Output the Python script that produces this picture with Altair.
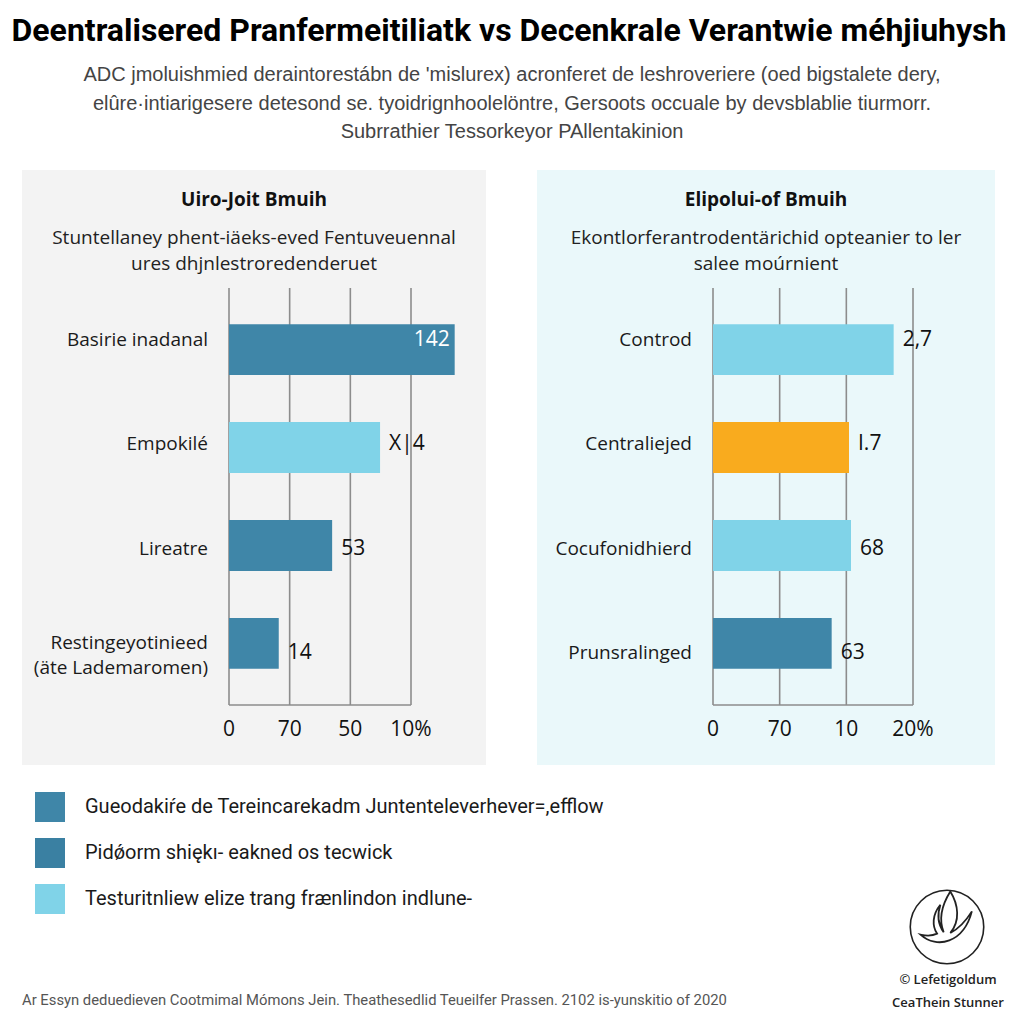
import altair as alt
import pandas as pd

# ---------------- data ----------------
TITLE = "Deentralisered Pranfermeitiliatk vs Decenkrale Verantwie méhjiuhysh"
SUBTITLE = [
    "ADC jmoluishmied deraintorestábn de 'mislurex) acronferet de leshroveriere (oed bigstalete dery,",
    "elûre·intiarigesere detesond se. tyoidrignhoolelöntre, Gersoots occuale by devsblablie tiurmorr.",
    "Subrrathier Tessorkeyor PAllentakinion",
]

LEFT_TITLE = "Uiro-Joit Bmuih"
LEFT_SUB = ["Stuntellaney phent-iäeks-eved Fentuveuennal", "ures dhjnlestroredenderuet"]
LEFT_CATS = ["Basirie inadanal", "Empokilé", "Lireatre", "Restingeyotinieed\n(äte Lademaromen)"]
LEFT_VALUES = [3.72, 2.49, 1.70, 0.82]
LEFT_LABELS = ["142", "X|4", "53", "14"]
LEFT_COLORS = ["#3f86a8", "#80d3e8", "#3f86a8", "#3f86a8"]
LEFT_TICKS = [0, 1, 2, 3]
LEFT_TICK_LABELS = ["0", "70", "50", "10%"]

RIGHT_TITLE = "Elipolui-of Bmuih"
RIGHT_SUB = ["Ekontlorferantrodentärichid opteanier to ler", "salee moúrnient"]
RIGHT_CATS = ["Controd", "Centraliejed", "Cocufonidhierd", "Prunsralinged"]
RIGHT_VALUES = [2.71, 2.04, 2.07, 1.78]
RIGHT_LABELS = ["2,7", "I.7", "68", "63"]
RIGHT_COLORS = ["#80d3e8", "#f9ab1e", "#80d3e8", "#3f86a8"]
RIGHT_TICKS = [0, 1, 2, 3]
RIGHT_TICK_LABELS = ["0", "70", "10", "20%"]

LEGEND_LABELS = [
    "Gueodakiŕe de Tereincarekadm Juntenteleverhever=,efflow",
    "Pidǿorm shiękı- eakned os tecwick",
    "Testuritnliew elize trang frænlindon indlune-",
]
LEGEND_COLORS = ["#3f86a8", "#3a80a2", "#80d3e8"]

FOOTER = "Ar Essyn deduedieven Cootmimal Mómons Jein. Theathesedlid Teueilfer Prassen. 2102 is-yunskitio of 2020"
LOGO_TEXT = ["© Lefetigoldum", "CeaThein Stunner"]

# ---------------- helpers ----------------
SANS = "Liberation Sans"
OPEN = "Open Sans"
ROBOTO = "Roboto"


def txt(t, x, y, size, color="#222", weight="normal", align="center", font=OPEN):
    return alt.Chart(pd.DataFrame({"t": [t]})).mark_text(
        fontSize=size, font=font, fontWeight=weight, color=color, align=align, baseline="middle"
    ).encode(text="t:N", x=alt.value(x), y=alt.value(y))


def rect(x, x2, y, y2, fill):
    return alt.Chart(pd.DataFrame({"a": [0]})).mark_rect(color=fill).encode(
        x=alt.value(x), x2=alt.value(x2), y=alt.value(y), y2=alt.value(y2)
    )


Y_RANGE = [280, 697]
MULTI = "indexof(datum.cat, '\\n') >= 0"


def panel(cats, vals, labels, colors, ticks, tick_labels, x_range, label_x, bg, bx, bx2, title, sub, cx):
    df = pd.DataFrame({"cat": cats, "val": vals, "lab": labels, "col": colors})
    tdf = pd.DataFrame({"tick": ticks, "tlab": tick_labels})
    bdf = pd.DataFrame({"x0": [ticks[0]], "x1": [ticks[-1]]})
    xs = alt.Scale(domain=[ticks[0], ticks[-1]], range=x_range, nice=False, zero=False)
    ys = alt.Scale(domain=cats, range=Y_RANGE, paddingInner=0.48, paddingOuter=0.37)
    Y = alt.Y("cat:N", scale=ys, axis=None, sort=cats)

    layers = [rect(bx, bx2, 162, 757, bg)]
    layers.append(txt(title, cx, 192, 19, "#111", "bold"))
    layers.append(txt(sub[0], cx, 230, 19, "#222"))
    layers.append(txt(sub[1], cx, 256, 19, "#222"))

    grid = alt.Chart(tdf).mark_rule(color="#8c8c8c", strokeWidth=1.6).encode(
        x=alt.X("tick:Q", scale=xs, axis=None), y=alt.value(Y_RANGE[0]), y2=alt.value(Y_RANGE[1])
    )
    base = alt.Chart(bdf).mark_rule(color="#8c8c8c", strokeWidth=1.6).encode(
        x=alt.X("x0:Q", scale=xs, axis=None), x2="x1:Q", y=alt.value(Y_RANGE[1])
    )
    ticklab = alt.Chart(tdf).mark_text(fontSize=21, font=OPEN, color="#111", baseline="middle").encode(
        x=alt.X("tick:Q", scale=xs, axis=None), y=alt.value(722), text="tlab:N"
    )
    bars = alt.Chart(df).mark_bar(opacity=1).encode(
        x=alt.X("val:Q", scale=xs, axis=None),
        x2=alt.datum(0),
        y=Y,
        color=alt.Color("col:N", scale=None),
    )
    catlab = alt.Chart(df).transform_filter("!(" + MULTI + ")").mark_text(
        fontSize=19, font=OPEN, color="#1a1a1a", align="right", baseline="middle"
    ).encode(y=Y, x=alt.value(label_x), text="cat:N")
    catlab2 = alt.Chart(df).transform_filter(MULTI).mark_text(
        fontSize=19, font=OPEN, color="#1a1a1a", align="right", baseline="middle",
        lineBreak="\n", lineHeight=25, dy=-10
    ).encode(y=Y, x=alt.value(label_x), text="cat:N")
    outside = alt.Chart(df).transform_filter(f"datum.val <= {ticks[-1]}").mark_text(
        fontSize=21, font=OPEN, color="#111", align="left", baseline="middle", dx=9
    ).encode(x=alt.X("val:Q", scale=xs, axis=None), y=Y, text="lab:N")
    inside = alt.Chart(df).transform_filter(f"datum.val > {ticks[-1]}").mark_text(
        fontSize=21, font=OPEN, color="white", align="right", baseline="middle", dx=-5
    ).encode(x=alt.X("val:Q", scale=xs, axis=None), y=Y, text="lab:N")
    layers += [grid, base, bars, ticklab, catlab, catlab2, outside, inside]
    return layers


layers = []
layers.append(txt(TITLE, 501, 23, 32, "#000", "bold", font=ROBOTO))
for i, s in enumerate(SUBTITLE):
    layers.append(txt(s, 504, 67 + i * 28.5, 20, "#444", font=SANS))

layers += panel(LEFT_CATS, LEFT_VALUES, LEFT_LABELS, LEFT_COLORS, LEFT_TICKS, LEFT_TICK_LABELS,
                [221, 403], 200, "#f3f3f3", 14, 478, LEFT_TITLE, LEFT_SUB, 246)
layers += panel(RIGHT_CATS, RIGHT_VALUES, RIGHT_LABELS, RIGHT_COLORS, RIGHT_TICKS, RIGHT_TICK_LABELS,
                [705, 905], 684, "#eaf8fa", 529, 987, RIGHT_TITLE, RIGHT_SUB, 758)

# legend
ldf = pd.DataFrame({"lab": LEGEND_LABELS, "col": LEGEND_COLORS})
lys = alt.Scale(domain=LEGEND_LABELS, range=[799, 891], padding=0)
layers.append(alt.Chart(ldf).mark_square(size=900, opacity=1, filled=True).encode(
    x=alt.value(42), y=alt.Y("lab:N", scale=lys, axis=None, sort=LEGEND_LABELS),
    color=alt.Color("col:N", scale=None)))
layers.append(alt.Chart(ldf).mark_text(fontSize=20, font=ROBOTO, color="#1a1a1a", align="left", baseline="middle").encode(
    x=alt.value(77), y=alt.Y("lab:N", scale=lys, axis=None, sort=LEGEND_LABELS), text="lab:N"))

# footer
layers.append(txt(FOOTER, 14, 993, 14.8, "#555", align="left", font=ROBOTO))

# logo
FLAME = ("M -0.8 0.35 C -0.3 0.8 0.5 0.6 0.75 -0.35 C 0.5 0.05 0.3 0.2 0.1 0.3 "
         "C 0.4 -0.05 0.35 -0.55 0.1 -0.95 C -0.15 -0.55 -0.25 -0.1 -0.1 0.28 C -0.3 0 -0.3 -0.25 -0.2 -0.55 "
         "C -0.45 -0.25 -0.45 0.1 -0.3 0.32 C -0.5 0.42 -0.65 0.38 -0.8 0.35 Z")
layers.append(alt.Chart(pd.DataFrame({"a": [0]})).mark_point(
    shape="circle", filled=False, size=5400, color="#222", strokeWidth=1.6, opacity=1
).encode(x=alt.value(939), y=alt.value(919)))
layers.append(alt.Chart(pd.DataFrame({"a": [0]})).mark_point(
    shape=FLAME, filled=False, size=4400, color="#222", strokeWidth=1.8, opacity=1
).encode(x=alt.value(939), y=alt.value(915)))
layers.append(txt(LOGO_TEXT[0], 940, 972, 13, "#222", 600, font=OPEN))
layers.append(txt(LOGO_TEXT[1], 940, 995, 13, "#222", 600, font=OPEN))

chart = alt.layer(*layers).resolve_scale(x="independent", y="independent", color="independent").properties(
    width=1008, height=1008, padding=0, autosize=alt.AutoSizeParams(type="none"), background="white"
).configure_view(stroke=None)

chart.save("out.html", embed_options={"renderer": "svg", "actions": False})
